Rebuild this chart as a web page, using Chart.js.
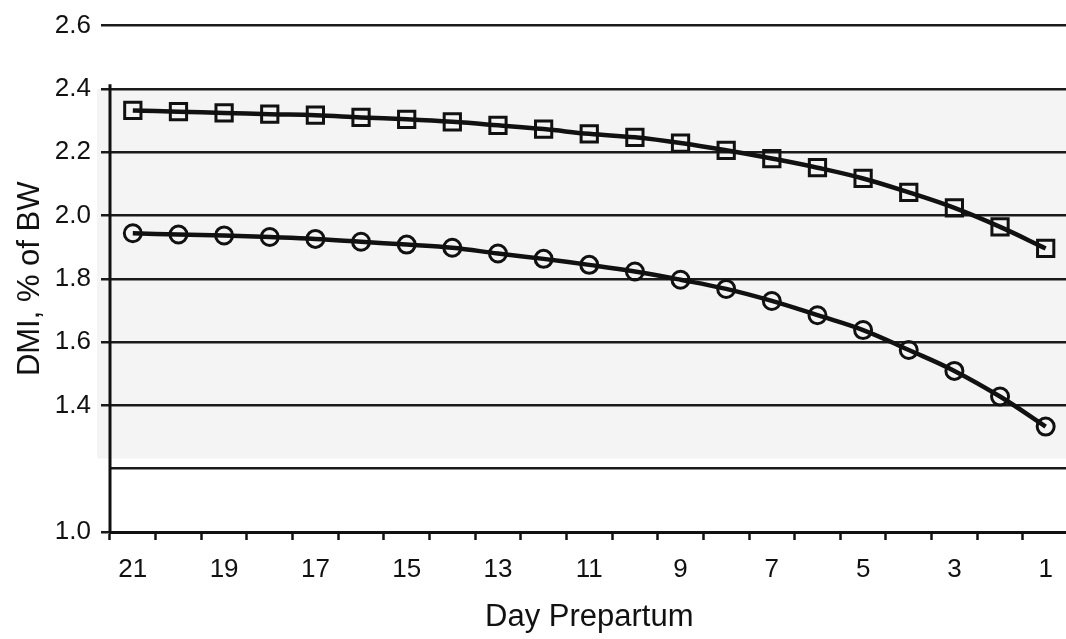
<!DOCTYPE html>
<html>
<head>
<meta charset="utf-8">
<script src="https://cdn.jsdelivr.net/npm/chart.js@4"></script>
<style>
    body { margin: 0; overflow: hidden; background: #fff; }
    #wrap { position: relative; width: 1083px; height: 639px; }
</style>
</head>
<body>
<div id="wrap"><canvas id="dmiChart"></canvas></div>
<script>
// days before calving, plotted left to right from 21 down to 1
var dayArr = [21, 20, 19, 18, 17, 16, 15, 14, 13, 12, 11, 10, 9, 8, 7, 6, 5, 4, 3, 2, 1];

// squares (upper curve)
var upperArr = [2.332, 2.328, 2.324, 2.320, 2.317, 2.310, 2.304, 2.296, 2.285, 2.273, 2.258,
                2.247, 2.229, 2.206, 2.180, 2.151, 2.117, 2.073, 2.024, 1.964, 1.896];

// circles (lower curve)
var lowerArr = [1.944, 1.940, 1.937, 1.932, 1.926, 1.917, 1.908, 1.898, 1.880, 1.863, 1.844,
                1.823, 1.797, 1.768, 1.730, 1.685, 1.638, 1.575, 1.509, 1.428, 1.333];

var yMin = 1.0;
var yMax = 2.6;
var yStep = 0.2;
var hiddenTick = 1.2;

// shaded plot band and the break just above 1.2
var bandTop = 2.4;
var bandBottom = 1.232;

var ink = '#111';
var fontFamily = "'Liberation Sans', Arial, sans-serif";

var bandPlugin = {
    id: 'bandPlugin',
    beforeDraw: function(chart) {
        var ctx = chart.ctx;
        var area = chart.chartArea;
        var y = chart.scales.y;
        var top = y.getPixelForValue(bandTop);
        var bottom = y.getPixelForValue(bandBottom);
        ctx.save();
        ctx.fillStyle = '#f4f4f4';
        ctx.fillRect(area.left - 13, top, area.right - area.left + 13, bottom - top);
        ctx.restore();
    },
    beforeDatasetsDraw: function(chart) {
        // y axis line only runs from 2.4 down
        var ctx = chart.ctx;
        var area = chart.chartArea;
        var y = chart.scales.y;
        ctx.save();
        ctx.strokeStyle = ink;
        ctx.lineWidth = 3;
        ctx.beginPath();
        ctx.moveTo(area.left, y.getPixelForValue(bandTop + 0.015));
        ctx.lineTo(area.left, y.getPixelForValue(yMin));
        ctx.stroke();
        ctx.restore();
    }
};

function isHidden(v) {
    return Math.abs(v - hiddenTick) < 1e-6;
}

var dmiChart = new Chart("dmiChart", {
    type: "line",
    data: {
        labels: dayArr,
        datasets: [{
            label: "upper",
            data: upperArr,
            borderColor: ink,
            borderWidth: 4.5,
            tension: 0.4,
            fill: false,
            pointStyle: 'rect',
            pointRadius: 11.5,
            pointBorderWidth: 3,
            pointBorderColor: ink,
            pointBackgroundColor: 'rgba(0,0,0,0)'
        }, {
            label: "lower",
            data: lowerArr,
            borderColor: ink,
            borderWidth: 4.5,
            tension: 0.4,
            fill: false,
            pointStyle: 'circle',
            pointRadius: 8.5,
            pointBorderWidth: 3,
            pointBorderColor: ink,
            pointBackgroundColor: 'rgba(0,0,0,0)'
        }]
    },
    options: {
        responsive: true,
        maintainAspectRatio: false,
        animation: false,
        layout: {
            padding: {top: 23, left: 0, right: 0, bottom: 0}
        },
        plugins: {
            legend: {display: false},
            tooltip: {enabled: false}
        },
        scales: {
            x: {
                offset: true,
                border: {display: true, color: ink, width: 3},
                grid: {
                    offset: true,
                    drawOnChartArea: false,
                    drawTicks: true,
                    tickLength: 8,
                    tickColor: ink,
                    tickWidth: 2.5
                },
                ticks: {
                    autoSkip: false,
                    maxRotation: 0,
                    padding: 14,
                    color: ink,
                    font: {family: fontFamily, size: 26},
                    callback: function(val, index) {
                        var d = dayArr[index];
                        return d % 2 === 1 ? String(d) : '';
                    }
                },
                title: {
                    display: true,
                    text: 'Day Prepartum',
                    color: ink,
                    padding: {top: 0, bottom: 6},
                    font: {family: fontFamily, size: 31, lineHeight: 1}
                },
                afterFit: function(scale) {
                    scale.height = 107;
                }
            },
            y: {
                min: yMin,
                max: yMax,
                border: {display: false},
                grid: {
                    color: '#1a1a1a',
                    lineWidth: 2.5,
                    drawTicks: true,
                    tickLength: 9,
                    tickWidth: 2.5,
                    tickColor: function(ctx) {
                        return ctx.tick && isHidden(ctx.tick.value) ? 'rgba(0,0,0,0)' : '#1a1a1a';
                    }
                },
                ticks: {
                    stepSize: yStep,
                    padding: 10,
                    color: ink,
                    font: {family: fontFamily, size: 26},
                    callback: function(v) {
                        return isHidden(v) ? '' : v.toFixed(1);
                    }
                },
                title: {
                    display: true,
                    text: 'DMI, % of BW',
                    color: ink,
                    padding: {top: 15, bottom: 0},
                    font: {family: fontFamily, size: 31, lineHeight: 1}
                },
                afterFit: function(scale) {
                    scale.width = 110;
                }
            }
        }
    },
    plugins: [bandPlugin]
});
</script>
</body>
</html>
